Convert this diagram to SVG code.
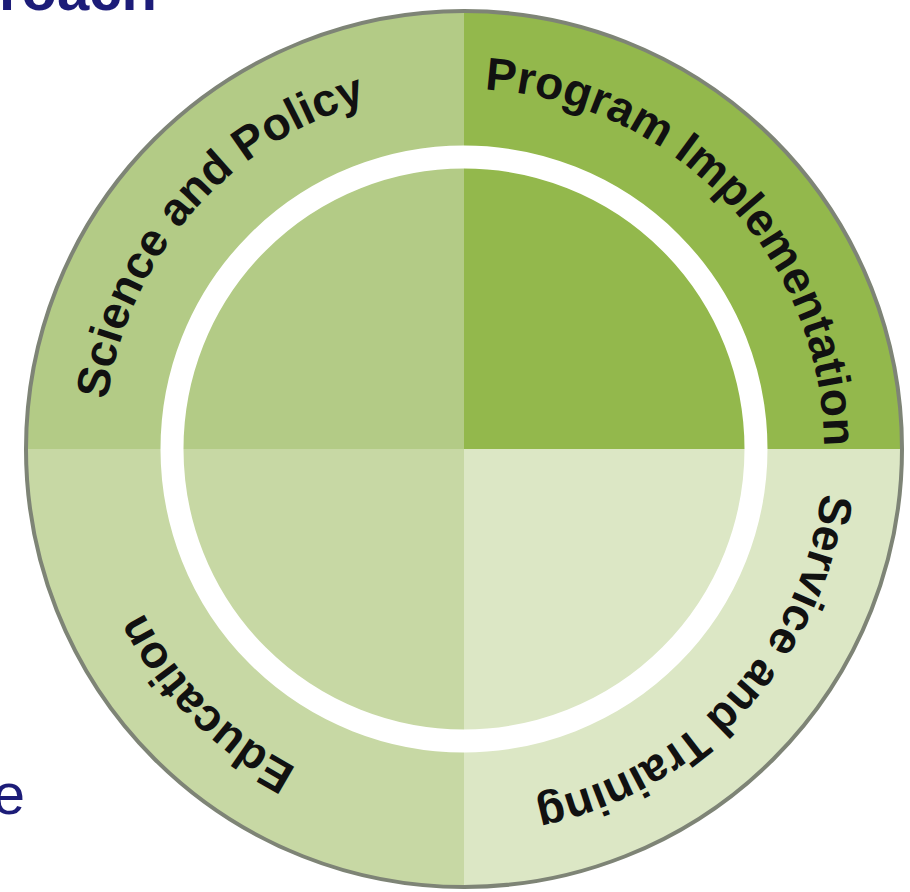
<svg xmlns="http://www.w3.org/2000/svg" xmlns:xlink="http://www.w3.org/1999/xlink" width="910" height="892" viewBox="0 0 910 892">
<style>
.lbl{font-family:"Liberation Sans",Arial,sans-serif;font-weight:bold;font-size:46px;fill:#111111}
.title{font-family:"Liberation Sans",Arial,sans-serif;fill:#1c1c78}
</style>
<defs>
<path id="arc" d="M104,449 A360,360 0 1 1 824,449 A360,360 0 1 1 104,449"/>
</defs>
<rect width="910" height="892" fill="#ffffff"/>
<text class="title" x="157" y="10" font-size="58" font-weight="bold" text-anchor="end">roach</text>
<text class="title" x="25" y="814" font-size="58" text-anchor="end">e</text>
<g id="science-policy">
<path d="M464,449 L26,449 A438,438 0 0 1 464,11 Z" fill="#b3cb86"/>
<text class="lbl"><textPath xlink:href="#arc" href="#arc" startOffset="11.4%" text-anchor="middle">Science and Policy</textPath></text>
</g>
<g id="program-implementation">
<path d="M464,449 L464,11 A438,438 0 0 1 902,449 Z" fill="#93b84c"/>
<text class="lbl"><textPath xlink:href="#arc" href="#arc" startOffset="37.9%" text-anchor="middle">Program Implementation</textPath></text>
</g>
<g id="service-training">
<path d="M464,449 L902,449 A438,438 0 0 1 464,887 Z" fill="#dce7c5"/>
<text class="lbl"><textPath xlink:href="#arc" href="#arc" startOffset="61.9%" text-anchor="middle">Service and Training</textPath></text>
</g>
<g id="education">
<path d="M464,449 L464,887 A438,438 0 0 1 26,449 Z" fill="#c7d8a4"/>
<text class="lbl"><textPath xlink:href="#arc" href="#arc" startOffset="87.6%" text-anchor="middle">Education</textPath></text>
</g>
<g id="ring">
<circle cx="464" cy="449" r="292" fill="none" stroke="#ffffff" stroke-width="23"/>
<circle cx="464" cy="449" r="438" fill="none" stroke="#7e8476" stroke-width="4"/>
</g>
</svg>
